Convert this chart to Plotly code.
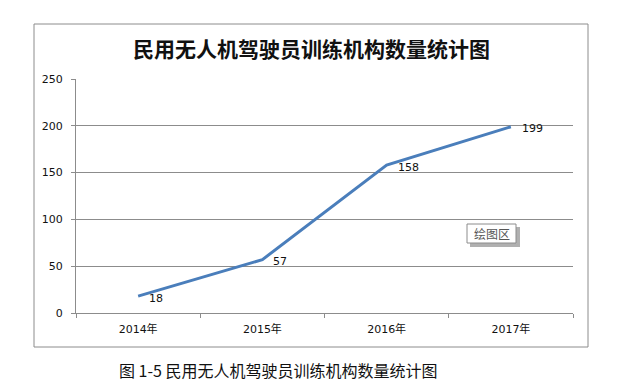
import plotly.graph_objects as go

years = ["2014年", "2015年", "2016年", "2017年"]
counts = [18, 57, 158, 199]
y_ticks = [0, 50, 100, 150, 200, 250]

title_text = "民用无人机驾驶员训练机构数量统计图"
caption_text = "图 1-5 民用无人机驾驶员训练机构数量统计图"
box_text = "绘图区"

W, H = 617, 392
L, R, T, B = 76, 573, 79, 313


def px(x):
    return (x - L) / (R - L)


def py(y):
    return (B - y) / (B - T)


fig = go.Figure()
fig.add_trace(go.Scatter(
    x=years, y=counts, mode="lines",
    line=dict(color="#4a7ebb", width=3),
    hoverinfo="skip",
))

gray = "#8c8c8c"
label_annotations = [
    dict(text=str(c), xref="x", yref="y", x=yr, y=c, showarrow=False,
         xanchor="left", yanchor="middle", xshift=9, yshift=-2,
         font=dict(family="DejaVu Sans", size=11, color="#111"))
    for yr, c in zip(years, counts)
]

fig.update_layout(
    width=W, height=H,
    margin=dict(l=L, r=W - R, t=T, b=H - B),
    paper_bgcolor="white", plot_bgcolor="white",
    showlegend=False,
    xaxis=dict(
        type="category", range=[-0.5, 3.5],
        showgrid=False, showline=True, linecolor=gray, linewidth=1,
        ticks="outside", tickson="boundaries", ticklen=4, tickcolor=gray,
        ticklabelstandoff=6,
        tickfont=dict(family="DejaVu Sans, Noto Sans CJK SC", size=11, color="#111"),
        fixedrange=True,
    ),
    yaxis=dict(
        range=[0, 250], tickvals=y_ticks,
        showgrid=True, gridcolor=gray, gridwidth=1,
        showline=True, linecolor=gray, linewidth=1,
        ticks="outside", ticklen=4, tickcolor=gray,
        ticklabelstandoff=6,
        zeroline=False,
        tickfont=dict(family="DejaVu Sans", size=11, color="#111"),
        fixedrange=True,
    ),
    shapes=[
        dict(type="rect", xref="paper", yref="paper",
             x0=px(34), x1=px(588), y0=py(347), y1=py(24),
             line=dict(color=gray, width=1), layer="below"),
        dict(type="rect", xref="paper", yref="paper",
             x0=px(470), x1=px(520), y0=py(247), y1=py(227),
             fillcolor="#b0b0b0", line=dict(width=0), layer="above"),
        dict(type="rect", xref="paper", yref="paper",
             x0=px(467), x1=px(516), y0=py(243), y1=py(224),
             fillcolor="white", line=dict(color=gray, width=1), layer="above"),
    ],
    annotations=label_annotations + [
        dict(text=title_text, xref="paper", yref="paper",
             x=px(311), y=py(48), showarrow=False,
             xanchor="center", yanchor="middle",
             font=dict(family="Noto Sans CJK SC", size=21, color="#111", weight="bold")),
        dict(text=caption_text, xref="paper", yref="paper",
             x=px(117), y=py(370), showarrow=False,
             xanchor="left", yanchor="middle",
             font=dict(family="Noto Sans CJK SC", size=16, color="#111")),
        dict(text=box_text, xref="paper", yref="paper",
             x=px(491.5), y=py(233.5), showarrow=False,
             xanchor="center", yanchor="middle",
             font=dict(family="Noto Sans CJK SC", size=12, color="#555")),
    ],
)

fig.write_html(
    "out.html",
    config={"displayModeBar": False, "staticPlot": True},
    post_script="document.body.style.margin='0';document.body.style.overflow='hidden';",
)
